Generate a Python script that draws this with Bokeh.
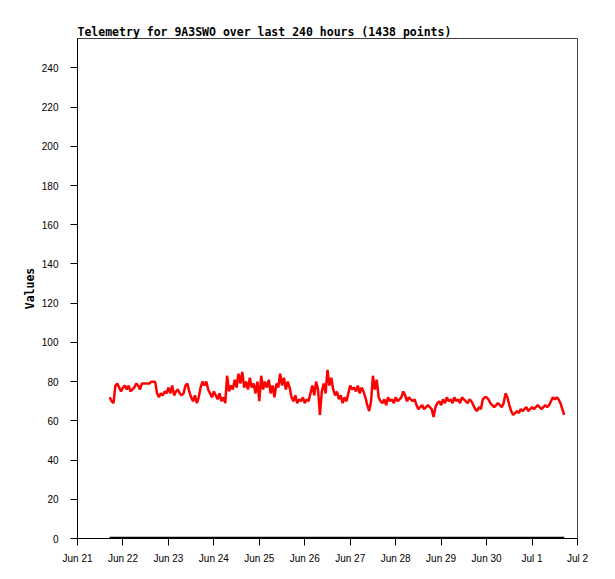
import pandas as pd
from bokeh.plotting import figure
from bokeh.models import FixedTicker, Range1d
from bokeh.embed import file_html
from bokeh.resources import INLINE

# ---- data (hourly readings) ----
origin = "2023-06-21 00:00"
start_time = "2023-06-21 17:00"
day_labels = ["Jun 21", "Jun 22", "Jun 23", "Jun 24", "Jun 25", "Jun 26",
              "Jun 27", "Jun 28", "Jun 29", "Jun 30", "Jul 1", "Jul 2"]
y_ticks = [0, 20, 40, 60, 80, 100, 120, 140, 160, 180, 200, 220, 240]

values_red = [
    72, 70, 69, 78, 79, 77, 75, 77, 78, 76, 78, 75, 76, 77, 79, 78, 76, 79, 79, 79, 79, 79, 80, 80,
    80, 74, 72, 74, 73, 75, 74, 77, 74, 78, 73, 75, 76, 74, 73, 74, 78, 79, 75, 72, 70, 73, 69, 72,
    77, 80, 78, 80, 76, 74, 72, 75, 73, 71, 74, 70, 72, 69, 83, 75, 78, 76, 81, 77, 84, 79, 85, 77,
    80, 76, 82, 77, 79, 74, 80, 70, 83, 76, 80, 77, 81, 74, 78, 72, 79, 77, 84, 78, 82, 76, 80, 77,
    72, 70, 73, 69, 71, 70, 72, 69, 71, 70, 74, 78, 73, 80, 76, 63, 75, 79, 74, 86, 78, 82, 76, 73,
    75, 71, 73, 69, 72, 70, 74, 78, 76, 77, 75, 78, 74, 77, 75, 72, 68, 65, 70, 83, 76, 81, 72, 70,
    69, 71, 68, 72, 70, 71, 69, 72, 70, 71, 72, 75, 73, 70, 72, 71, 70, 71, 68, 66, 67, 68, 66, 67,
    68, 67, 66, 62, 67, 69, 70, 68, 71, 69, 72, 70, 71, 69, 72, 70, 71, 69, 72, 71, 70, 69, 71, 70,
    68, 66, 65, 67, 66, 71, 72, 72, 71, 69, 68, 67, 68, 69, 68, 67, 69, 74, 72, 68, 65, 63, 64, 65,
    64, 66, 65, 66, 67, 65, 66, 67, 66, 67, 68, 67, 66, 67, 68, 67, 68, 70, 72, 71, 72, 71, 69, 66, 63,
]
values_black = [0] * len(values_red)

times = pd.date_range(start_time, periods=len(values_red), freq="h")
x_days = list((times - pd.Timestamp(origin)) / pd.Timedelta(days=1))

p = figure(width=608, height=573, output_backend="svg", toolbar_location=None,
           x_range=Range1d(0, 11), y_range=Range1d(0, 255),
           min_border_left=77, min_border_right=31, min_border_top=38, min_border_bottom=35,
           title="Telemetry for 9A3SWO over last 240 hours (1438 points)")

p.line(x_days, values_black, line_color="black", line_width=3.5)
p.line(x_days, values_red, line_color="#ff0000", line_width=2.5)

p.title.text_font = "DejaVu Sans Mono"
p.title.text_font_size = "11.5px"
p.title.text_font_style = "bold"
p.title.text_color = "black"
p.title.align = "left"
p.title.standoff = 0
p.title.offset = 0

p.xgrid.visible = False
p.ygrid.visible = False
p.outline_line_color = "#404040"
p.outline_line_width = 1
p.background_fill_color = "white"
p.border_fill_color = "white"

p.xaxis.ticker = FixedTicker(ticks=list(range(len(day_labels))))
p.xaxis.major_label_overrides = {i: lab for i, lab in enumerate(day_labels)}
p.yaxis.ticker = FixedTicker(ticks=y_ticks)

for ax in (p.xaxis[0], p.yaxis[0]):
    ax.minor_tick_line_color = None
    ax.major_tick_in = 0
    ax.major_tick_out = 7
    ax.major_tick_line_color = "black"
    ax.axis_line_color = "black"
    ax.major_label_text_font = "Liberation Sans"
    ax.major_label_text_font_size = "10px"
    ax.major_label_text_color = "black"

p.xaxis.major_label_standoff = 7
p.yaxis.major_label_standoff = 12

p.yaxis.axis_label = "Values"
p.yaxis.axis_label_text_font = "DejaVu Sans Mono"
p.yaxis.axis_label_text_font_style = "bold"
p.yaxis.axis_label_text_font_size = "11.5px"
p.yaxis.axis_label_text_color = "black"
p.yaxis.axis_label_standoff = 2

open("out.html", "w").write(file_html(p, INLINE))
